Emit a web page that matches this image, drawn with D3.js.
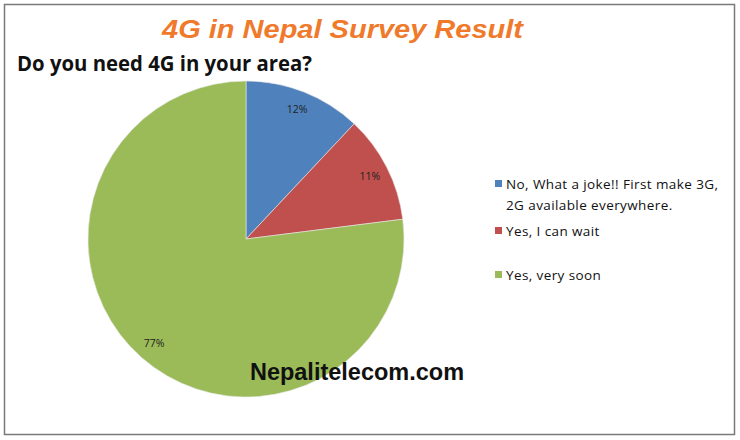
<!DOCTYPE html>
<html><head><meta charset="utf-8">
<script src="https://cdn.jsdelivr.net/npm/d3@7"></script>
<style>html,body{margin:0;padding:0;background:#fff;}</style>
</head><body>
<svg id="c" width="740" height="440"></svg>
<script>
const categories = ["No, What a joke!! First make 3G, 2G available everywhere.", "Yes, I can wait", "Yes, very soon"];
const legendLines = [["No, What a joke!! First make 3G,", "2G available everywhere."], ["Yes, I can wait"], ["Yes, very soon"]];
const values = [12, 11, 77];
const labels = ["12%", "11%", "77%"];
const colors = ["#4F81BD", "#C0504D", "#9BBB59"];

const svg = d3.select("#c");
svg.append("rect").attr("x", 4.5).attr("y", 4.5).attr("width", 730).attr("height", 430)
  .attr("fill", "#fff").attr("stroke", "#7a7a7a").attr("stroke-width", 1.5);

svg.append("text").attr("x", 162).attr("y", 38)
  .attr("font-family", "Liberation Sans, Arial, sans-serif").attr("font-weight", "bold")
  .attr("font-style", "italic").attr("font-size", 25).attr("fill", "#F07A2B")
  .attr("textLength", 361).attr("lengthAdjust", "spacingAndGlyphs")
  .text("4G in Nepal Survey Result");

svg.append("text").attr("x", 17).attr("y", 71)
  .attr("font-family", "Open Sans, sans-serif").attr("font-weight", "bold")
  .attr("font-size", 20.5).attr("fill", "#111")
  .attr("textLength", 295).attr("lengthAdjust", "spacingAndGlyphs")
  .text("Do you need 4G in your area?");

const cx = 246, cy = 239, r = 158;
const g = svg.append("g").attr("transform", `translate(${cx},${cy})`);
const pie = d3.pie().sort(null).value(d => d);
const arcs = pie(values);
const arc = d3.arc().innerRadius(0).outerRadius(r);
g.selectAll("path").data(arcs).join("path")
  .attr("d", arc).attr("fill", (d, i) => colors[i])
  .attr("stroke", "#e8e8e8").attr("stroke-width", 0.6);

const labelArc = d3.arc().innerRadius(139).outerRadius(139);
g.selectAll("text.lbl").data(arcs).join("text").attr("class", "lbl")
  .attr("transform", d => `translate(${labelArc.centroid(d)})`)
  .attr("text-anchor", "middle").attr("dy", "0.35em")
  .attr("font-family", "Open Sans, sans-serif").attr("font-size", 10.5).attr("fill", "#222")
  .text((d, i) => labels[i]);

const legendY = [184, 231, 275];
const lg = svg.append("g");
legendLines.forEach((lines, i) => {
  lg.append("rect").attr("x", 495).attr("y", legendY[i] - 4).attr("width", 7).attr("height", 7)
    .attr("fill", colors[i]);
  lines.forEach((t, j) => {
    lg.append("text").attr("x", 506).attr("y", legendY[i] + j * 21).attr("dy", "0.35em")
      .attr("font-family", "Open Sans, sans-serif").attr("font-size", 13.5)
      .attr("letter-spacing", 0.4).attr("fill", "#111")
      .text(t);
  });
});

svg.append("text").attr("x", 357).attr("y", 380).attr("text-anchor", "middle")
  .attr("font-family", "Liberation Sans, Arial, sans-serif").attr("font-weight", "bold")
  .attr("font-size", 23.5).attr("fill", "#111")
  .text("Nepalitelecom.com");
</script>
</body></html>
